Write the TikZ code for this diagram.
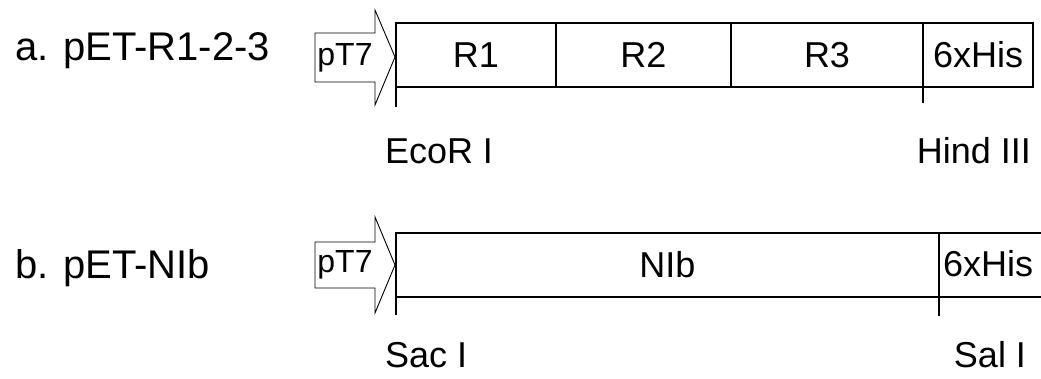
\documentclass[tikz,border=0pt]{standalone}
\usepackage{fontspec}
\setmainfont{Liberation Sans}
\begin{document}
\begin{tikzpicture}[x=1pt,y=-1pt,
  every node/.style={font=\fontsize{36}{40}\selectfont, inner sep=0pt, outer sep=0pt},
  seg/.style={draw, line width=1.2pt, minimum height=64pt, anchor=north west},
  divider/.style={line width=2pt},
  promoter/.style={draw, line width=0.9pt},
  ptext/.style={font=\fontsize{32}{36}\selectfont},
  lbl/.style={anchor=base west},
  rowlbl/.style={anchor=base west, font=\fontsize{40}{44}\selectfont}]
\useasboundingbox (0,0) rectangle (1041,378);
\clip (0,0) rectangle (1041,378);
% ---- row a ----
\node[rowlbl] (la) at (15,60) {a. pET-R1-2-3};
\draw[promoter] (315,33) -- (375,33) -- (375,10) -- (395,57) -- (375,105) -- (375,82) -- (315,82) -- cycle;
\node[ptext] (pa) at (345,57.5) {pT7};
\node[seg, minimum width=160pt] (r1) at (396,23) {R1};
\node[seg, minimum width=175pt] (r2) at (556,23) {R2};
\node[seg, minimum width=192pt] (r3) at (731,23) {R3};
\node[seg, minimum width=110pt] (ha) at (923,23) {6xHis};
\coordinate (ecoT) at (396,107);
\coordinate (hindT) at (923,103);
\draw[divider] (r1.north west) -- (ecoT);
\draw[divider] (r2.north west) -- (r2.south west);
\draw[divider] (r3.north west) -- (r3.south west);
\draw[divider] (ha.north west) -- (hindT);
\node[lbl] (eco) at (385,163) {EcoR I};
\node[lbl, anchor=base east] (hind) at (1031,163) {Hind III};
% ---- row b ----
\node[rowlbl] (lb) at (15,278) {b. pET-NIb};
\draw[promoter] (315,242) -- (375,242) -- (375,217) -- (395,265) -- (375,313) -- (375,288) -- (315,288) -- cycle;
\node[ptext] (pb) at (345,265) {pT7};
\node[seg, minimum width=543pt] (nib) at (396,233) {NIb};
\node[seg, minimum width=140pt, anchor=north west] (hb) at (939,233) {};
\node[anchor=west] (hbt) at (943,264) {6xHis};
\coordinate (sacT) at (396,315);
\coordinate (salT) at (939,316);
\draw[divider] (nib.north west) -- (sacT);
\draw[divider] (hb.north west) -- (salT);
\node[lbl] (sac) at (385,367) {Sac I};
\node[lbl, anchor=base east] (sal) at (1026,367) {Sal I};
\end{tikzpicture}
\end{document}
